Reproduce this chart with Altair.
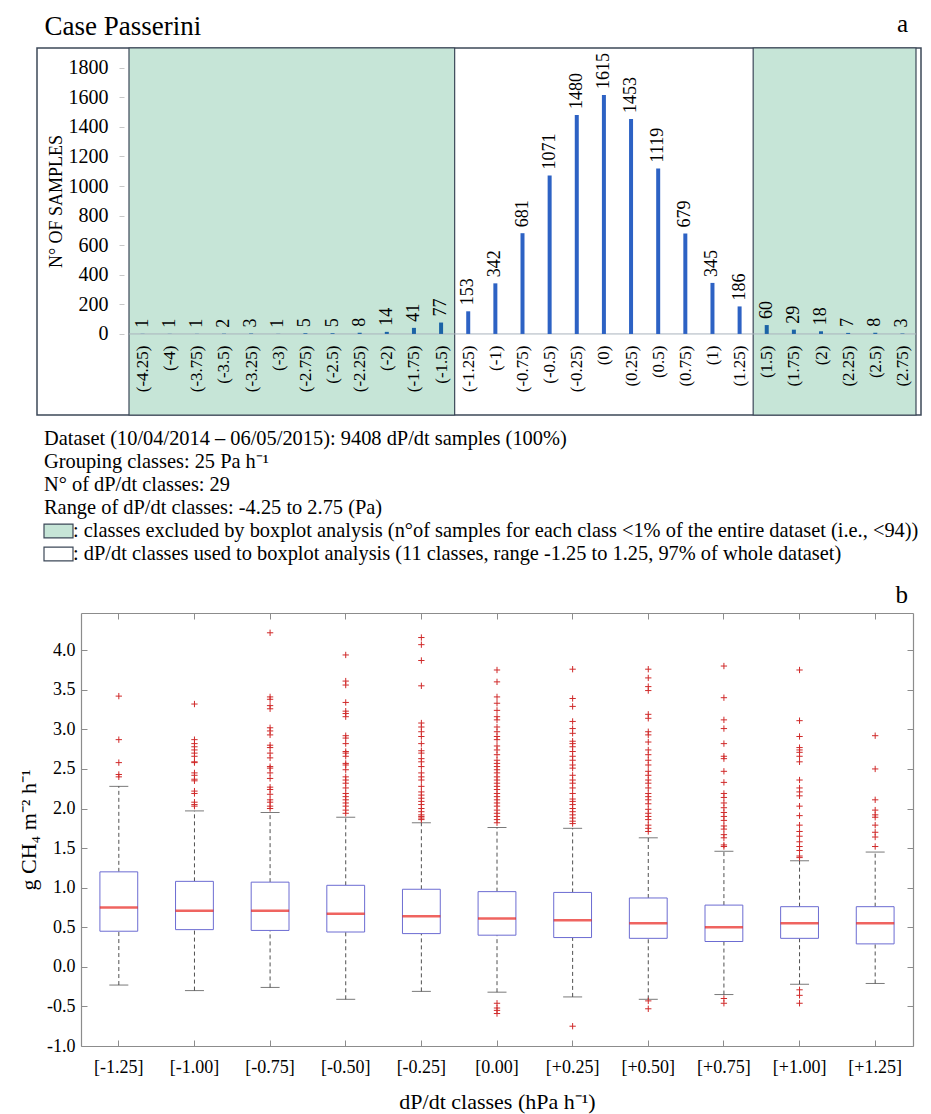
import altair as alt
import pandas as pd

FONT = "Liberation Serif"

# ---------------- panel a : number of samples per dP/dt class ----------------
class_values = [-4.25, -4.0, -3.75, -3.5, -3.25, -3.0, -2.75, -2.5, -2.25, -2.0, -1.75, -1.5,
                -1.25, -1.0, -0.75, -0.5, -0.25, 0.0, 0.25, 0.5, 0.75, 1.0, 1.25,
                1.5, 1.75, 2.0, 2.25, 2.5, 2.75]
sample_counts = [1, 1, 1, 2, 3, 1, 5, 5, 8, 14, 41, 77,
                 153, 342, 681, 1071, 1480, 1615, 1453, 1119, 679, 345, 186,
                 60, 29, 18, 7, 8, 3]
count_ticks = [0, 200, 400, 600, 800, 1000, 1200, 1400, 1600, 1800]
used_range = [-1.25, 1.25]
class_step = 0.25

# ---------------- text block ----------------
text_lines = [
    "Dataset (10/04/2014 \u2013 06/05/2015): 9408 dP/dt samples (100%)",
    "Grouping classes: 25 Pa h\u207b\u00b9",
    "N\u00b0 of dP/dt classes: 29",
    "Range of dP/dt classes: -4.25 to 2.75 (Pa)",
    ": classes excluded by boxplot analysis (n\u00b0of samples for each class <1% of the entire dataset (i.e., <94))",
    ": dP/dt classes used to boxplot analysis (11 classes, range -1.25 to 1.25, 97% of whole dataset)",
]
swatch_kinds = [None, None, None, None, "excluded", "used"]

# ---------------- panel b : boxplot statistics ----------------
box_labels = ["[-1.25]", "[-1.00]", "[-0.75]", "[-0.50]", "[-0.25]", "[0.00]",
              "[+0.25]", "[+0.50]", "[+0.75]", "[+1.00]", "[+1.25]"]
q1 = [0.45, 0.47, 0.46, 0.44, 0.42, 0.40, 0.37, 0.36, 0.32, 0.36, 0.29]
median = [0.75, 0.71, 0.71, 0.67, 0.64, 0.61, 0.59, 0.55, 0.50, 0.55, 0.55]
q3 = [1.20, 1.08, 1.07, 1.03, 0.98, 0.95, 0.94, 0.87, 0.78, 0.76, 0.76]
whisker_low = [-0.23, -0.30, -0.26, -0.41, -0.31, -0.32, -0.38, -0.41, -0.35, -0.22, -0.21]
whisker_high = [2.28, 1.97, 1.95, 1.89, 1.82, 1.76, 1.75, 1.63, 1.46, 1.34, 1.45]
outliers = [
    [3.42, 2.87, 2.58, 2.43, 2.40],
    [3.32, 2.87, 2.82, 2.78, 2.74, 2.70, 2.66, 2.59, 2.58, 2.45, 2.42, 2.37, 2.35, 2.22,
     2.19, 2.08, 2.05, 2.03],
    [4.22, 3.41, 3.38, 3.30, 3.26, 3.02, 2.98, 2.93, 2.80, 2.77, 2.70, 2.64, 2.53, 2.51,
     2.45, 2.38, 2.27, 2.24, 2.18, 2.11, 2.08, 2.03, 2.00],
    [3.94, 3.61, 3.56, 3.34, 3.23, 3.20, 3.16, 2.92, 2.89, 2.82, 2.72, 2.70, 2.66, 2.57,
     2.55, 2.49, 2.40, 2.36, 2.32, 2.26, 2.19, 2.15, 2.11, 2.07, 2.03, 1.98, 1.94],
    [4.16, 4.07, 3.87, 3.55, 3.08, 3.03, 2.97, 2.91, 2.82, 2.73, 2.70, 2.63, 2.59, 2.53,
     2.45, 2.40, 2.36, 2.28, 2.21, 2.17, 2.13, 2.09, 2.05, 2.00, 1.96, 1.92, 1.90, 1.88, 1.86],
    [3.75, 3.60, 3.41, 3.33, 3.24, 3.16, 3.12, 3.03, 2.97, 2.91, 2.87, 2.79, 2.74, 2.68,
     2.61, 2.57, 2.53, 2.49, 2.45, 2.40, 2.36, 2.32, 2.28, 2.24, 2.19, 2.15, 2.11, 2.07,
     2.03, 1.98, 1.94, 1.90, 1.86, 1.82, -0.46, -0.52, -0.55, -0.59],
    [3.76, 3.39, 3.29, 3.10, 3.01, 2.95, 2.85, 2.82, 2.78, 2.72, 2.66, 2.61, 2.55, 2.51,
     2.42, 2.36, 2.32, 2.26, 2.19, 2.12, 2.09, 2.05, 2.00, 1.96, 1.92, 1.88, 1.84, 1.81, -0.75],
    [3.76, 3.65, 3.54, 3.49, 3.19, 3.14, 2.97, 2.93, 2.84, 2.74, 2.68, 2.61, 2.55, 2.47,
     2.42, 2.36, 2.32, 2.26, 2.19, 2.15, 2.11, 2.06, 1.99, 1.94, 1.90, 1.86, 1.79, 1.75,
     1.71, -0.43, -0.53],
    [3.80, 3.40, 3.12, 3.01, 2.82, 2.66, 2.63, 2.47, 2.33, 2.19, 2.14, 2.07, 2.01, 1.95,
     1.90, 1.85, 1.78, 1.74, 1.67, 1.63, 1.54, 1.52, -0.40, -0.46],
    [3.75, 3.11, 2.91, 2.77, 2.74, 2.71, 2.66, 2.59, 2.36, 2.26, 2.21, 2.16, 2.03, 1.91,
     1.79, 1.71, 1.65, 1.58, 1.52, 1.47, 1.40, 1.38, -0.29, -0.36, -0.46],
    [2.92, 2.50, 2.11, 1.98, 1.92, 1.89, 1.79, 1.70, 1.64, 1.52],
]
flux_ticks = [-1.0, -0.5, 0.0, 0.5, 1.0, 1.5, 2.0, 2.5, 3.0, 3.5, 4.0]

# ---------------- colours ----------------
GREEN = "#c6e5d7"
FRAME = "#3c4858"
BLUE = "#2d62c4"
BLUE_EXCL = "#1b63a6"
GRAYAX = "#8c8c8c"

# =====================================================================
# Panel a
# =====================================================================
W_A, H_A = 884, 367
A_LEFT = 87                     # room for the count labels inside the frame
x_lo = class_values[0] - class_step / 2
x_hi = class_values[-1] + class_step / 2
y_lo, y_hi = -548, 1933

df_a = pd.DataFrame({"cls": class_values, "count": sample_counts})
df_a["excluded"] = [("excluded" if (c < used_range[0] or c > used_range[1]) else "used")
                    for c in class_values]
green_df = pd.DataFrame({
    "x0": [x_lo, used_range[1] + class_step / 2],
    "x1": [used_range[0] - class_step / 2, x_hi],
})
zero_df = pd.DataFrame({"x0": [x_lo], "x1": [x_hi], "count": [0]})

xs_a = alt.Scale(domain=[x_lo, x_hi], range=[A_LEFT, W_A], nice=False, zero=False)
ys_a = alt.Scale(domain=[y_lo, y_hi], nice=False, zero=False)
xax_a = alt.Axis(values=class_values, labelExpr="'(' + datum.value + ')'", orient="bottom",
                 offset=-71, labelAngle=270, labelAlign="right", labelBaseline="middle",
                 labelPadding=1, ticks=False, domain=False, grid=False, labelFontSize=17,
                 labelFont=FONT, labelColor="black", labelOverlap=False, labelFlush=False,
                 title=None, zindex=2)
yax_a = alt.Axis(values=count_ticks, format="d", orient="left", offset=-A_LEFT, domain=False,
                 ticks=True, tickSize=5, tickColor="#c8c8c8", labelPadding=11, grid=False,
                 labelFontSize=20, labelFont=FONT, labelColor="black",
                 title="N\u00b0 OF SAMPLES", titleFont=FONT,
                 titleFontSize=18, titleFontWeight="normal", titleColor="black",
                 titleX=-68, titleY=153, titleAngle=270, titleAlign="center",
                 titleBaseline="middle", zindex=2)

green = alt.Chart(green_df).mark_rect(fill=GREEN, stroke=FRAME, strokeWidth=1.2).encode(
    x=alt.X("x0:Q", scale=xs_a, axis=xax_a), x2="x1:Q")
zero_line = alt.Chart(zero_df).mark_rule(color="#a9b3bd", strokeWidth=1).encode(
    x=alt.X("x0:Q", scale=xs_a, axis=xax_a), x2="x1:Q",
    y=alt.Y("count:Q", scale=ys_a, axis=yax_a))
bars = alt.Chart(df_a).mark_bar(size=4).encode(
    x=alt.X("cls:Q", scale=xs_a, axis=xax_a),
    y=alt.Y("count:Q", scale=ys_a, axis=yax_a),
    color=alt.Color("excluded:N", scale=alt.Scale(domain=["used", "excluded"],
                                                  range=[BLUE, BLUE_EXCL]), legend=None))
values_txt = alt.Chart(df_a).mark_text(angle=270, align="left", baseline="middle", dx=6,
                                       fontSize=18, font=FONT, color="black").encode(
    x=alt.X("cls:Q", scale=xs_a, axis=xax_a),
    y=alt.Y("count:Q", scale=ys_a, axis=yax_a),
    text="count:Q")

panel_a = alt.layer(green, zero_line, bars, values_txt).properties(
    width=W_A, height=H_A,
    view=alt.ViewBackground(stroke=FRAME, strokeWidth=1.5),
    title=alt.Title("a", anchor="end", frame="group", fontSize=25, font=FONT,
                    fontWeight="normal", color="black", dx=-13, offset=10),
)

# =====================================================================
# Text block
# =====================================================================
H_T = 165
df_t = pd.DataFrame({"line": list(range(len(text_lines))), "text": text_lines,
                     "col": [0 if k is None else 1 for k in swatch_kinds]})
sw_rows = [(i, k) for i, k in enumerate(swatch_kinds) if k is not None]
df_sw = pd.DataFrame({"line": [r[0] for r in sw_rows], "kind": [r[1] for r in sw_rows],
                      "c0": [0] * len(sw_rows), "c1": [1] * len(sw_rows)})
df_sw["top"] = df_sw["line"] - 0.3
df_sw["bot"] = df_sw["line"] + 0.3

xs_t = alt.Scale(domain=[0, 1], range=[7, 36])
ys_t = alt.Scale(domain=[-0.9565, -0.9565 + H_T / 23], reverse=True, nice=False, zero=False)

txt = alt.Chart(df_t).mark_text(align="left", baseline="middle", fontSize=20.4, font=FONT,
                                color="black").encode(
    x=alt.X("col:Q", scale=xs_t, axis=None),
    y=alt.Y("line:Q", scale=ys_t, axis=None),
    text="text:N")
sw = alt.Chart(df_sw).mark_rect(stroke=FRAME, strokeWidth=1.2).encode(
    x=alt.X("c0:Q", scale=xs_t, axis=None), x2="c1:Q",
    y=alt.Y("top:Q", scale=ys_t, axis=None), y2="bot:Q",
    fill=alt.Fill("kind:N", scale=alt.Scale(domain=["excluded", "used"],
                                            range=[GREEN, "white"]), legend=None))
panel_t = alt.layer(sw, txt).properties(width=W_A, height=H_T)

# =====================================================================
# Panel b
# =====================================================================
W_B, H_B = 876, 433
B_LEFT = 44
yb_lo, yb_hi = -1.0, 4.47

df_box = pd.DataFrame({"label": box_labels, "q1": q1, "median": median, "q3": q3,
                       "lo": whisker_low, "hi": whisker_high})
wh_rows = []
for lab, a, b, c, d in zip(box_labels, q3, whisker_high, whisker_low, q1):
    wh_rows.append((lab, a, b))
    wh_rows.append((lab, c, d))
df_wh = pd.DataFrame(wh_rows, columns=["label", "y0", "y1"])
caps = []
for lab, lo, hi in zip(box_labels, whisker_low, whisker_high):
    caps.append((lab, lo))
    caps.append((lab, hi))
df_cap = pd.DataFrame(caps, columns=["label", "v"])
out_rows = [(lab, v) for lab, vals in zip(box_labels, outliers) for v in vals]
df_out = pd.DataFrame(out_rows, columns=["label", "v"])

xs_b = alt.Scale(type="band", domain=box_labels, range=[B_LEFT, W_B],
                 paddingInner=0.5, paddingOuter=0.25)
ys_b = alt.Scale(domain=[yb_lo, yb_hi], nice=False, zero=False)

ylab_expr = "replace(format(datum.value, '.1f'), '\u2212', '-')"

xax_main = alt.Axis(orient="bottom", labelFontSize=18, labelFont=FONT, labelColor="black",
                    labelPadding=12, labelAngle=0, ticks=False, domain=True,
                    domainColor=GRAYAX, domainWidth=1.2, grid=False,
                    title="dP/dt classes (hPa h\u207b\u00b9)", titleFont=FONT,
                    titleFontSize=22, titleFontWeight="normal", titleColor="black",
                    titlePadding=15)
yax_main = alt.Axis(orient="left", offset=-B_LEFT, values=flux_ticks, labelExpr=ylab_expr,
                    labelFontSize=18, labelFont=FONT, labelColor="black", labelPadding=6,
                    ticks=False, domain=True, domainColor=GRAYAX, domainWidth=1.2,
                    grid=False, title="g CH\u2084 m\u207b\u00b2 h\u207b\u00b9", titleFont=FONT,
                    titleFontSize=22, titleFontWeight="normal", titleColor="black",
                    titlePadding=6)
xax_top = alt.Axis(orient="top", labels=False, ticks=False, domain=True, domainColor=GRAYAX,
                   domainWidth=1.2, grid=False, title=None)
yax_right = alt.Axis(orient="right", labels=False, ticks=False, domain=True,
                     domainColor=GRAYAX, domainWidth=1.2, grid=False, title=None)
xax_tick_top = alt.Axis(orient="bottom", offset=-H_B, labels=False, ticks=True, tickSize=6,
                        tickColor=GRAYAX, domain=False, grid=False, title=None)
yax_tick_right = alt.Axis(orient="left", offset=-W_B, values=flux_ticks, labels=False,
                          ticks=True, tickSize=6, tickColor=GRAYAX, domain=False,
                          grid=False, title=None)
xax_tick_bot = alt.Axis(orient="top", offset=-H_B, labels=False, ticks=True, tickSize=6,
                        tickColor=GRAYAX, domain=False, grid=False, title=None)
yax_tick_left = alt.Axis(orient="right", offset=-(W_B - B_LEFT), values=flux_ticks,
                         labels=False, ticks=True, tickSize=6, tickColor=GRAYAX,
                         domain=False, grid=False, title=None)

whiskers = alt.Chart(df_wh).mark_rule(color="#505050", strokeWidth=1,
                                      strokeDash=[4, 3]).encode(
    x=alt.X("label:N", scale=xs_b, sort=box_labels, axis=xax_main),
    y=alt.Y("y0:Q", scale=ys_b, axis=yax_main), y2="y1:Q")
boxes = alt.Chart(df_box).mark_bar(fill="white", stroke="#6c6cd2", strokeWidth=1).encode(
    x=alt.X("label:N", scale=xs_b, sort=box_labels, axis=xax_top),
    y=alt.Y("q1:Q", scale=ys_b, axis=yax_right), y2="q3:Q")
cap_marks = alt.Chart(df_cap).mark_tick(color="#404040", thickness=1, size=19).encode(
    x=alt.X("label:N", scale=xs_b, sort=box_labels, axis=xax_tick_top),
    y=alt.Y("v:Q", scale=ys_b, axis=yax_tick_right))
med_marks = alt.Chart(df_box).mark_tick(color="#e8221c", thickness=2.5, size=38).encode(
    x=alt.X("label:N", scale=xs_b, sort=box_labels, axis=xax_tick_bot),
    y=alt.Y("median:Q", scale=ys_b, axis=yax_tick_left))
out_marks = alt.Chart(df_out).mark_point(shape="M-1,0L1,0M0,-1L0,1", size=40, filled=False,
                                         stroke="#d02a2a", strokeWidth=1, opacity=1).encode(
    x=alt.X("label:N", scale=xs_b, sort=box_labels, axis=None),
    y=alt.Y("v:Q", scale=ys_b, axis=None))

panel_b = alt.layer(whiskers, boxes, cap_marks, med_marks, out_marks).resolve_axis(
    x="independent", y="independent").properties(
    width=W_B, height=H_B,
    title=alt.Title("b", anchor="end", frame="group", fontSize=25, font=FONT,
                    fontWeight="normal", color="black", dx=-5, offset=5),
)

chart = alt.vconcat(panel_a, panel_t, panel_b, spacing=0).properties(
    title=alt.Title("Case Passerini", anchor="start", fontSize=27, font=FONT,
                    fontWeight="normal", color="black", dx=27, dy=33),
    padding={"left": 17, "top": 11, "right": 5, "bottom": 5},
).configure(font=FONT, background="white").configure_view(stroke=None)

chart.save("out.html", embed_options={"renderer": "svg", "actions": False})
